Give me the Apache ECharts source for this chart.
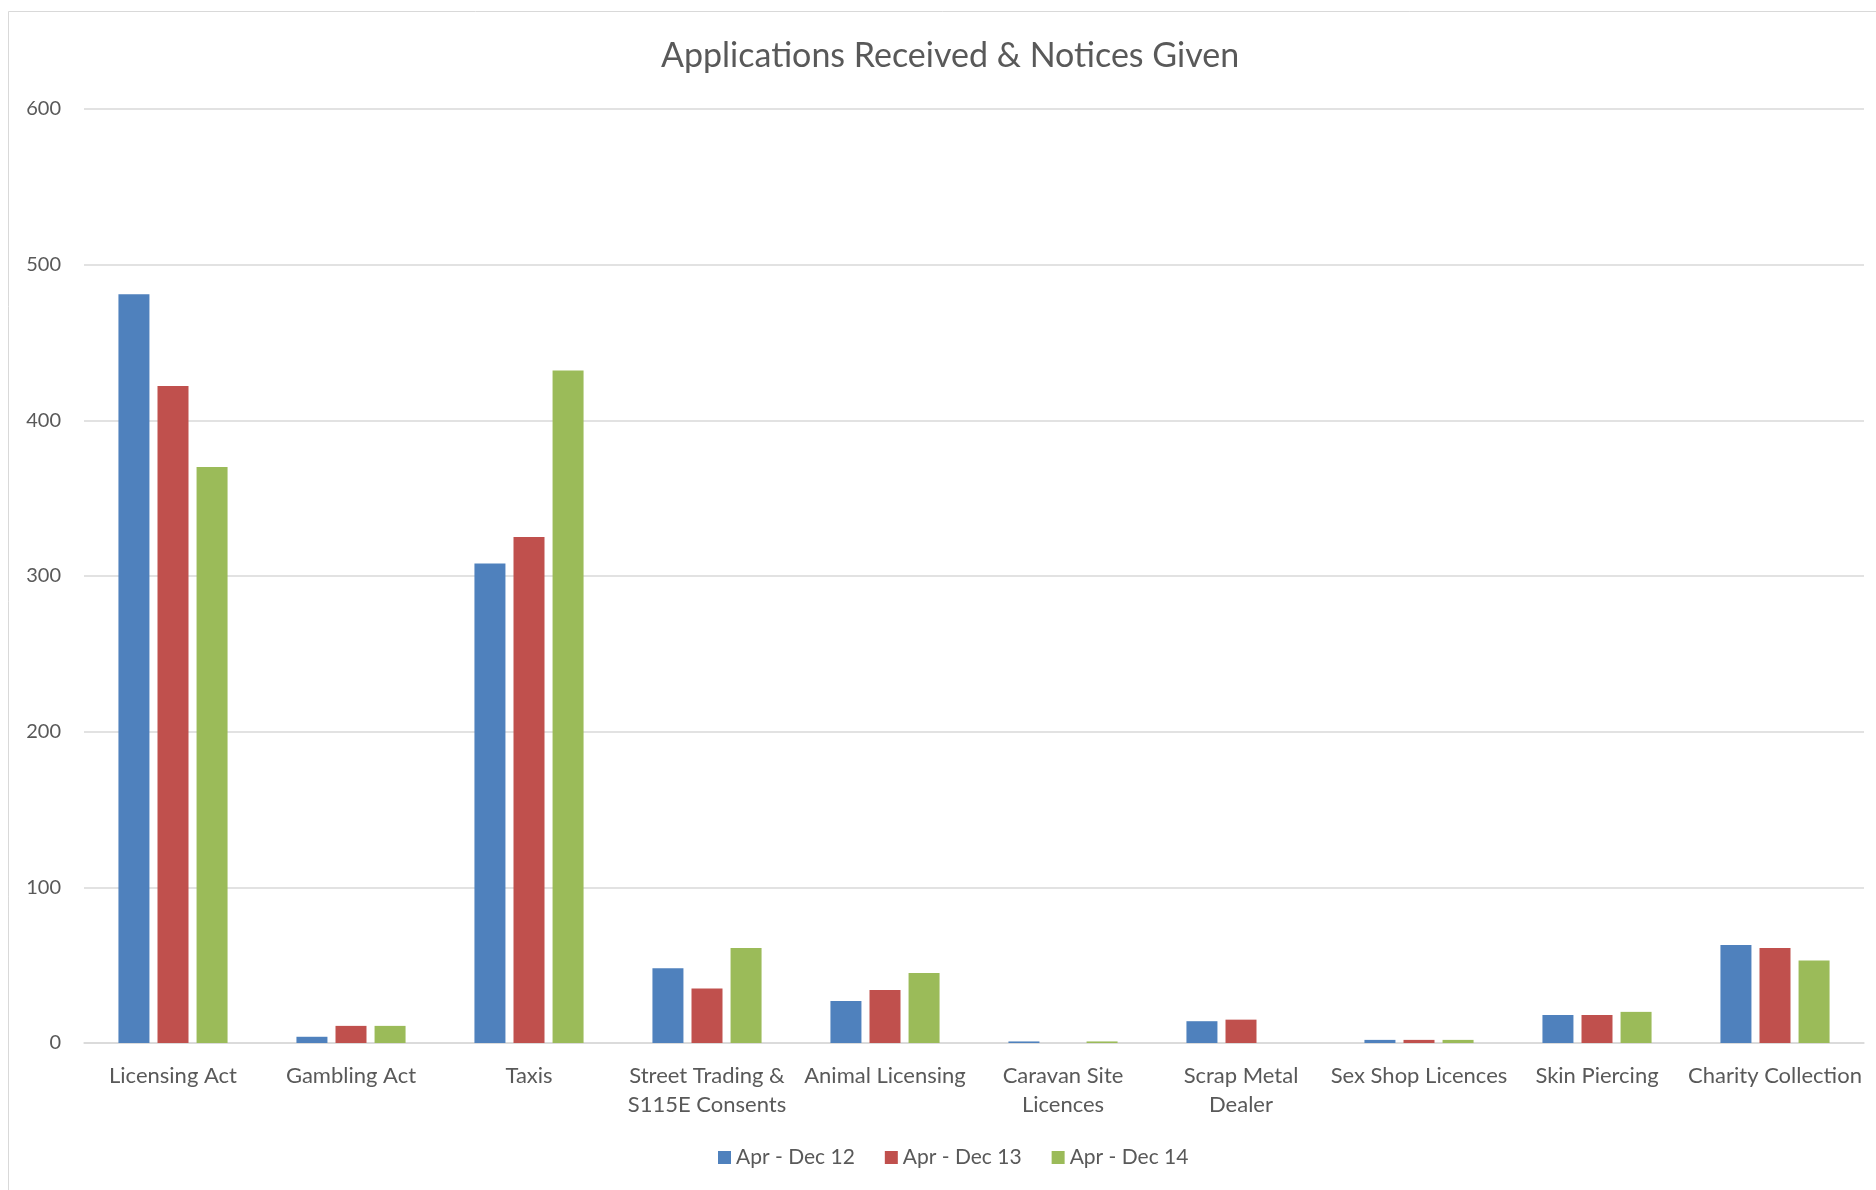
<!DOCTYPE html>
<html>
<head>
<meta charset="utf-8">
<script src="https://cdn.jsdelivr.net/npm/echarts@6/dist/echarts.min.js"></script>
<style>html,body{margin:0;padding:0;background:#fff;}#c{width:1876px;height:1190px;}</style>
</head>
<body>
<div id="c"></div>
<script>
const categories = ["Licensing Act", "Gambling Act", "Taxis", "Street Trading &\nS115E Consents", "Animal Licensing", "Caravan Site\nLicences", "Scrap Metal\nDealer", "Sex Shop Licences", "Skin Piercing", "Charity Collection"];
const seriesNames = ["Apr - Dec 12", "Apr - Dec 13", "Apr - Dec 14"];
const dec12 = [481, 4, 308, 48, 27, 1, 14, 2, 18, 63];
const dec13 = [422, 11, 325, 35, 34, 0, 15, 2, 18, 61];
const dec14 = [370, 11, 432, 61, 45, 1, 0, 2, 20, 53];
const yTicks = [0, 100, 200, 300, 400, 500, 600];
const colors = ["#4f81bd", "#c0504d", "#9bbb59"];

const chart = echarts.init(document.getElementById('c'));
const font = 'Lato, "Open Sans", sans-serif';
const mk = (name, data, color) => ({
  name, type: 'bar', data, barWidth: 31, barGap: '26%',
  itemStyle: { color }
});
chart.setOption({
  animation: false,
  backgroundColor: '#ffffff',
  graphic: [{
    type: 'rect', shape: { x: 8.5, y: 11.5, width: 1880, height: 1190 },
    style: { fill: 'none', stroke: '#d9d9d9', lineWidth: 1 }, silent: true, z: -1
  }],
  title: {
    text: 'Applications Received & Notices Given',
    left: 661, top: 39, padding: 0,
    textStyle: { fontFamily: font, fontSize: 34, fontWeight: 'normal', color: '#595959' }
  },
  legend: {
    data: seriesNames, bottom: 22, left: 718, padding: 0,
    icon: 'rect', itemWidth: 13, itemHeight: 13, itemGap: 30,
    textStyle: { fontFamily: font, fontSize: 21, color: '#595959' }
  },
  grid: { left: 84, right: 12, top: 109, bottom: 147, containLabel: false },
  xAxis: {
    type: 'category', data: categories,
    axisLine: { lineStyle: { color: '#d9d9d9', width: 1.5 } },
    axisTick: { show: false },
    axisLabel: { fontFamily: font, fontSize: 22, color: '#595959', margin: 18, lineHeight: 29, interval: 0 }
  },
  yAxis: {
    type: 'value', min: yTicks[0], max: yTicks[yTicks.length - 1], interval: 100,
    axisLine: { show: false }, axisTick: { show: false },
    splitLine: { lineStyle: { color: '#d9d9d9', width: 1.5 } },
    axisLabel: { fontFamily: font, fontSize: 20, color: '#595959', margin: 23 }
  },
  series: [mk(seriesNames[0], dec12, colors[0]), mk(seriesNames[1], dec13, colors[1]), mk(seriesNames[2], dec14, colors[2])]
});
</script>
</body>
</html>
